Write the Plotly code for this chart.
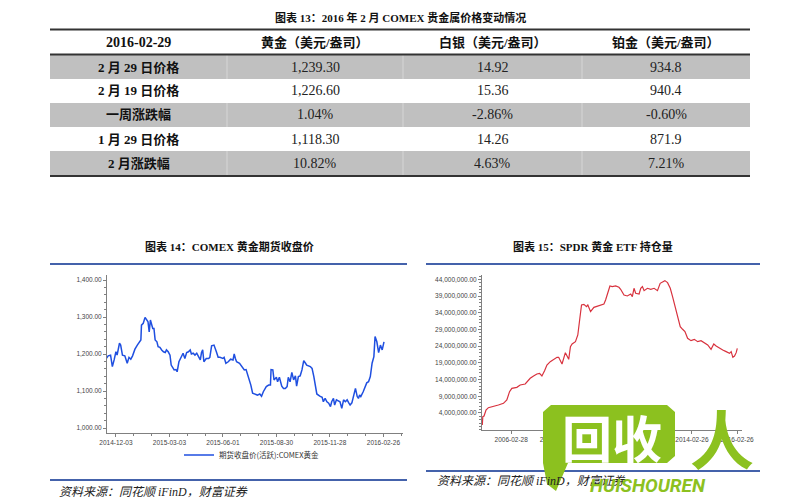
import plotly.graph_objects as go
import pandas as pd

# ---------------- data ----------------
table_title = "图表 13：2016 年 2 月 COMEX 贵金属价格变动情况"
table_header = ["2016-02-29", "黄金（美元/盎司）", "白银（美元/盎司）", "铂金（美元/盎司）"]
table_rows = ["2 月 29 日价格", "2 月 19 日价格", "一周涨跌幅", "1 月 29 日价格", "2 月涨跌幅"]
gold_col = ["1,239.30", "1,226.60", "1.04%", "1,118.30", "10.82%"]
silver_col = ["14.92", "15.36", "-2.86%", "14.26", "4.63%"]
platinum_col = ["934.8", "940.4", "-0.60%", "871.9", "7.21%"]

chart14_title = "图表 14：COMEX 黄金期货收盘价"
chart15_title = "图表 15：SPDR 黄金 ETF 持仓量"
source_text = "资料来源：同花顺 iFinD，财富证券"
gold_series_name = "期货收盘价(活跃):COMEX黄金"

gold_start = "2014-11-17"
gold_day = [0, 3, 7, 10, 13, 16, 18, 22, 24, 27, 31, 35, 38, 41, 44, 48, 52, 55, 58, 59,
            62, 65, 68, 70, 72, 74, 78, 80, 82, 85, 87, 90, 93, 96, 99, 101, 104, 107, 109, 111,
            114, 117, 119, 122, 124, 127, 129, 132, 135, 138, 141, 143, 146, 149, 152, 155, 158, 160, 162, 164,
            168, 172, 174, 177, 181, 185, 188, 191, 196, 198, 201, 205, 209, 213, 215, 217, 219, 224, 228, 232,
            235, 237, 241, 243, 246, 250, 254, 258, 261, 264, 269, 273, 276, 277, 280, 282, 286, 288, 291, 295,
            298, 301, 304, 306, 309, 312, 315, 318, 320, 323, 326, 329, 332, 335, 337, 343, 346, 349, 351, 354,
            359, 363, 365, 368, 371, 374, 377, 379, 382, 384, 387, 391, 393, 396, 399, 402, 405, 408, 410, 413,
            416, 419, 422, 424, 426, 428, 432, 436, 438, 441, 444, 447, 450, 452, 455, 458, 461, 464, 467]
gold_close = [1188, 1195, 1197, 1166, 1184, 1206, 1197, 1229, 1224, 1197, 1195, 1175, 1191, 1186, 1195, 1213, 1224, 1233, 1238, 1278,
              1283, 1299, 1292, 1287, 1260, 1292, 1269, 1269, 1238, 1233, 1220, 1218, 1211, 1206, 1204, 1211, 1206, 1197, 1170, 1164,
              1157, 1158, 1152, 1179, 1186, 1195, 1202, 1188, 1204, 1206, 1211, 1200, 1202, 1197, 1202, 1193, 1184, 1204, 1211, 1179,
              1188, 1188, 1191, 1222, 1224, 1206, 1191, 1191, 1188, 1191, 1175, 1179, 1186, 1184, 1200, 1188, 1179, 1175, 1166, 1157,
              1158, 1148, 1130, 1116, 1094, 1092, 1089, 1092, 1086, 1098, 1112, 1116, 1116, 1158, 1157, 1130, 1137, 1125, 1137, 1113,
              1107, 1107, 1112, 1137, 1125, 1150, 1130, 1141, 1113, 1139, 1141, 1157, 1182, 1175, 1170, 1166, 1161, 1139, 1116, 1092,
              1086, 1083, 1071, 1080, 1071, 1067, 1058, 1071, 1080, 1062, 1076, 1071, 1071, 1053, 1076, 1071, 1076, 1067, 1062, 1068,
              1085, 1107, 1085, 1080, 1089, 1085, 1098, 1112, 1122, 1125, 1139, 1175, 1193, 1247, 1233, 1204, 1224, 1211, 1233]
gold_xtick_dates = ["2014-12-03", "2015-03-03", "2015-06-01", "2015-08-30", "2015-11-28", "2016-02-26"]
gold_ytick_vals = [1000, 1100, 1200, 1300, 1400]

etf_dates = ["2004-11-18", "2004-11-26", "2004-12-16", "2005-01-17", "2005-02-24", "2005-05-16", "2005-08-05",
             "2005-10-26", "2005-12-19", "2006-02-01", "2006-03-10", "2006-05-30", "2006-07-23", "2006-10-12",
             "2006-12-05", "2007-01-01", "2007-02-24", "2007-04-19", "2007-06-01", "2007-07-09", "2007-08-21",
             "2007-09-28", "2007-11-21", "2008-01-15", "2008-03-09", "2008-04-05", "2008-05-02", "2008-05-29",
             "2008-06-25", "2008-07-22", "2008-08-18", "2008-09-14", "2008-10-12", "2008-11-08", "2009-01-01",
             "2009-02-08", "2009-03-13", "2009-04-09", "2009-05-17", "2009-06-29", "2009-07-20", "2009-09-02",
             "2009-10-26", "2009-12-19", "2010-02-11", "2010-04-06", "2010-05-03", "2010-06-10", "2010-07-12",
             "2010-08-19", "2010-10-12", "2010-12-05", "2011-01-01", "2011-02-24", "2011-04-19", "2011-06-13",
             "2011-07-09", "2011-08-05", "2011-09-01", "2011-10-26", "2011-11-22", "2011-12-19", "2012-01-15",
             "2012-03-09", "2012-05-02", "2012-06-25", "2012-08-18", "2012-10-01", "2012-11-08", "2012-12-16",
             "2013-01-28", "2013-03-13", "2013-04-19", "2013-05-27", "2013-07-09", "2013-08-21", "2013-09-28",
             "2013-11-05", "2013-12-18", "2014-02-11", "2014-04-06", "2014-05-30", "2014-07-23", "2014-09-15",
             "2014-11-08", "2015-01-01", "2015-02-14", "2015-03-24", "2015-05-16", "2015-07-09", "2015-09-02",
             "2015-10-26", "2015-11-22", "2015-12-19", "2016-01-15", "2016-02-11", "2016-02-29"]
etf_million_oz = [0.40, 2.90, 3.10, 4.89, 5.59, 5.89, 6.39,
                  6.89, 7.89, 10.38, 11.38, 11.68, 12.38, 12.68,
                  13.88, 14.38, 15.07, 15.67, 15.87, 15.07, 16.67,
                  18.37, 19.37, 20.06, 20.66, 20.66, 19.37, 18.67,
                  20.36, 22.06, 21.06, 20.06, 23.86, 24.65, 25.35,
                  27.35, 32.34, 36.33, 36.53, 35.83, 36.33, 34.34,
                  35.63, 36.03, 36.33, 36.63, 37.83, 40.32, 42.02,
                  41.82, 42.02, 41.62, 41.02, 39.33, 39.03, 39.62,
                  38.83, 41.32, 39.82, 39.62, 41.32, 41.82, 40.62,
                  41.32, 41.02, 41.32, 40.62, 42.82, 43.32, 43.62,
                  43.02, 41.32, 38.83, 35.83, 32.84, 29.84, 29.05,
                  28.35, 26.35, 25.65, 26.05, 25.35, 25.65, 25.05,
                  24.35, 23.06, 24.65, 24.05, 23.36, 22.86, 22.36,
                  21.86, 22.36, 20.66, 21.06, 22.06, 23.36]
etf_xtick_dates = ["2006-02-28", "2008-02-28", "2010-02-27", "2012-02-27", "2014-02-26", "2016-02-26"]
etf_ytick_million = [4, 9, 14, 19, 24, 29, 34, 39, 44]

# ---------------- helpers (pixel -> paper) ----------------
W, H = 800, 500
def fx(x):
    return x / W
def fy(y):
    return 1 - y / H

gold_dates = pd.Timestamp(gold_start) + pd.to_timedelta(gold_day, unit="D")
etf_oz = [v * 1e6 for v in etf_million_oz]
etf_ytick_vals = [v * 1e6 for v in etf_ytick_million]

SERIF = "Liberation Serif, 'Noto Sans CJK SC'"
CJK = "'Noto Sans CJK SC', 'Liberation Serif'"
TICKF = dict(family="Liberation Sans, 'Noto Sans CJK SC'", size=6.5, color="#444")
BLUE_RULE = "#4462ab"

fig = go.Figure()

# ---------------- gold futures line ----------------
fig.add_trace(go.Scatter(
    x=gold_dates, y=gold_close, mode="lines", name=gold_series_name,
    line=dict(color="#1f4fe0", width=1.5),
    xaxis="x", yaxis="y", showlegend=True,
))

# ---------------- SPDR ETF line ----------------
fig.add_trace(go.Scatter(
    x=etf_dates, y=etf_oz, mode="lines", name="SPDR黄金ETF持仓",
    line=dict(color="#d8323e", width=1.2),
    xaxis="x2", yaxis="y2", showlegend=False,
))

axis_common = dict(showline=True, linecolor="#808080", linewidth=1, ticks="outside",
                   ticklen=3, tickcolor="#808080", showgrid=False, zeroline=False,
                   tickfont=TICKF, automargin=False)

fig.update_layout(
    width=W, height=H,
    margin=dict(l=0, r=0, t=0, b=0, pad=0, autoexpand=False),
    paper_bgcolor="white", plot_bgcolor="white",
    font=dict(family="Liberation Sans, 'Noto Sans CJK SC'", color="#222"),
    xaxis=dict(domain=[fx(107), fx(403)], anchor="y",
               range=["2014-11-18", "2016-03-30"],
               tickvals=gold_xtick_dates, ticktext=gold_xtick_dates,
               minor=dict(ticks="outside", ticklen=2, tickcolor="#808080",
                          tick0="2014-12-03", dtick=30 * 86400000),
               **axis_common),
    yaxis=dict(domain=[fy(433), fy(275)], anchor="x",
               range=[986.5, 1413.5], tickvals=gold_ytick_vals, tickformat=",.2f",
               minor=dict(ticks="outside", ticklen=2, tickcolor="#808080", tick0=1000, dtick=20),
               **axis_common),
    xaxis2=dict(domain=[fx(482), fx(742)], anchor="y2",
                range=["2004-11-13", "2016-05-15"],
                tickvals=etf_xtick_dates, ticktext=etf_xtick_dates,
                **axis_common),
    yaxis2=dict(domain=[fy(430), fy(275)], anchor="x2",
                range=[-1.09e6, 45.3e6], tickvals=etf_ytick_vals, tickformat=",.2f",
                minor=dict(ticks="outside", ticklen=2, tickcolor="#808080", tick0=4e6, dtick=1e6),
                **axis_common),
    legend=dict(x=fx(252), y=fy(455), xanchor="center", yanchor="middle",
                orientation="h", bgcolor="rgba(0,0,0,0)",
                font=dict(family=CJK, size=7.5, color="#333"),
                itemwidth=30),
)

# ---------------- table geometry (layout only) ----------------
tbl_left, tbl_right = 50, 750
col_edges = [50, 227, 403, 582, 750]
header_top, header_bottom = 30, 55
row_h = 24
gray = "#c0c0c0"

shapes = []
def hline(x0, x1, y, color, width):
    shapes.append(dict(type="line", xref="paper", yref="paper",
                       x0=fx(x0), x1=fx(x1), y0=fy(y), y1=fy(y),
                       line=dict(color=color, width=width)))

n_rows = len(table_rows)
for i in range(n_rows):
    y0 = header_bottom + row_h * i
    if i % 2 == 0:
        shapes.append(dict(type="rect", xref="paper", yref="paper", layer="below",
                           x0=fx(tbl_left), x1=fx(tbl_right), y0=fy(y0 + row_h), y1=fy(y0),
                           fillcolor=gray, line=dict(width=0)))
        for xe in col_edges[1:-1]:
            shapes.append(dict(type="line", xref="paper", yref="paper",
                               x0=fx(xe), x1=fx(xe), y0=fy(y0 + row_h), y1=fy(y0),
                               line=dict(color="#d6d6d6", width=1)))

table_bottom = header_bottom + row_h * n_rows
hline(tbl_left, tbl_right, 29.5, "#333", 2)
hline(tbl_left, tbl_right, 54.5, "#333", 2)
hline(tbl_left, tbl_right, table_bottom + 1, "#333", 2)
hline(50, 407, 264, BLUE_RULE, 2)
hline(426, 760, 264, BLUE_RULE, 2)
hline(50, 407, 480, BLUE_RULE, 2)
hline(426, 760, 471, BLUE_RULE, 2)

# watermark logo (decorative overlay)
def path_from(points):
    return "M " + " L ".join(f"{fx(x):.5f},{fy(y):.5f}" for x, y in points) + " Z"
green = "#8cc11f"
shapes.append(dict(type="path", xref="paper", yref="paper", fillcolor=green,
                   line=dict(color=green, width=0), layer="above",
                   path=path_from([(551, 405), (667, 405), (675, 412), (675, 456), (667, 463),
                                   (568, 463), (556, 491), (547, 484), (543, 463), (543, 412)])))
fig.update_layout(shapes=shapes)

# ---------------- text ----------------
ann = []
def text(x, y, s, size, family=CJK, color="#111", xanchor="center", italic=False):
    ann.append(dict(x=fx(x), y=fy(y), xref="paper", yref="paper", text=s, showarrow=False,
                    xanchor=xanchor, yanchor="middle",
                    font=dict(family=family, size=size, color=color,
                              style="italic" if italic else "normal")))

col_centers = [(col_edges[j] + col_edges[j + 1]) / 2 for j in range(4)]
header_mid = (header_top + header_bottom) / 2
for j, h in enumerate(table_header):
    text(col_centers[j], header_mid, "<b>" + h + "</b>", 14 if j == 0 else 13, family=SERIF)
value_cols = [gold_col, silver_col, platinum_col]
for i in range(n_rows):
    ymid = header_bottom + row_h * i + row_h / 2
    text(col_centers[0], ymid, "<b>" + table_rows[i] + "</b>", 13, family=SERIF)
    for j, col in enumerate(value_cols):
        text(col_centers[j + 1], ymid, col[i], 14, family=SERIF, color="#222")

text(400, 17, "<b>" + table_title + "</b>", 11, family=SERIF)
text(229, 246, "<b>" + chart14_title + "</b>", 11, family=SERIF)
text(593, 246, "<b>" + chart15_title + "</b>", 11, family=SERIF)
text(57, 492, source_text, 12, family=SERIF, color="#222", xanchor="left", italic=True)
text(435, 481, source_text, 12, family=SERIF, color="#222", xanchor="left", italic=True)

# watermark text
text(612, 436, "<b>回收</b>", 50, family="'Noto Sans CJK SC'", color="white")
text(722, 436, "<b>人</b>", 64, family="'Noto Sans CJK SC'", color=green)
text(648, 485, "<b>HUISHOUREN</b>", 19, family="Roboto, Liberation Sans", color=green, italic=True)

fig.update_layout(annotations=ann)

fig.write_html("out.html", config={"displayModeBar": False},
               post_script="document.body.style.margin='0';document.body.style.overflow='hidden';")
